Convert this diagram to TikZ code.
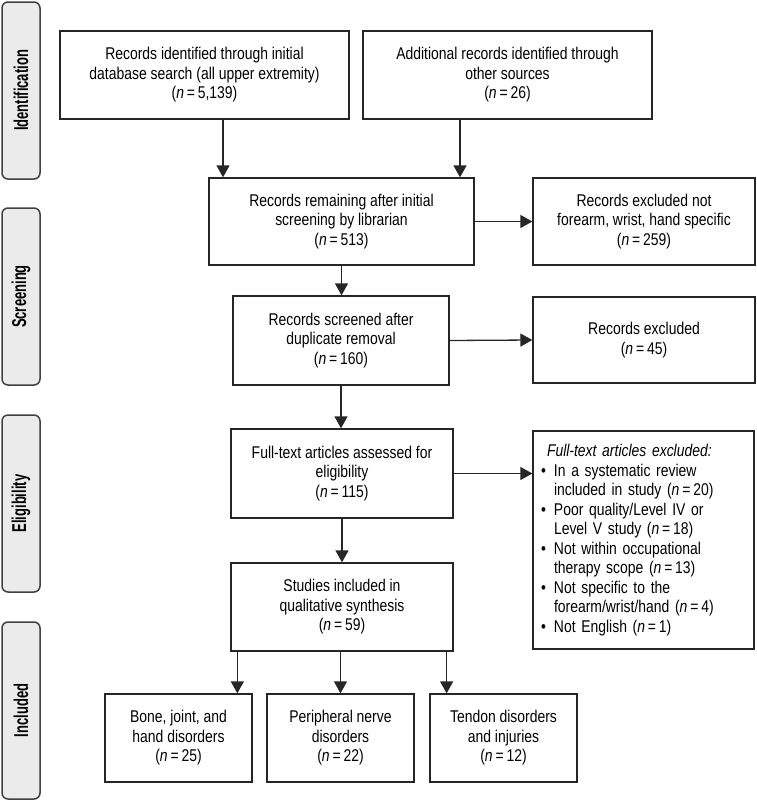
\documentclass[tikz,border=0pt]{standalone}
\usepackage{fontspec}
\setmainfont{Liberation Sans}[FakeStretch=0.82]
\newfontfamily\phasefont{Liberation Sans}[FakeStretch=0.65]
\usetikzlibrary{arrows.meta}

\tikzset{
  box/.style={draw=black!85, line width=1.3pt, fill=white, align=center,
    inner sep=2pt, font=\fontsize{17}{19.5}\selectfont},
  phase/.style={draw=black!75, line width=1.5pt, fill=black!8, rounded corners=6pt,
    rotate=90, minimum width=177pt, minimum height=38pt,
    font=\phasefont\bfseries\fontsize{20}{22}\selectfont},
  arr/.style={-{Triangle[width=13pt,length=12pt]}, line width=1.3pt, draw=black!85},
}
\newcommand{\nn}[1]{(\textit{n}\,=\,#1)}
\newcommand{\bul}{\makebox[13pt][l]{\textbullet}}
\newcommand{\ind}{\hspace*{13pt}}

\begin{document}
\begin{tikzpicture}[x=1pt, y=-1pt]
    \useasboundingbox (0,0) rectangle (757,801);

    % phases
    \node[phase] (ident) at (21,90.5) {Identification};
    \node[phase] (screen) at (21,296.5) {Screening};
    \node[phase] (elig) at (21,503.5) {Eligibility};
    \node[phase] (incl) at (21,710.5) {Included};

    % identification
    \node[box, minimum width=289pt, minimum height=88pt] (dbsearch) at (204.5,75)
      {Records identified through initial\\database search (all upper extremity)\\\nn{5,139}};
    \node[box, minimum width=289pt, minimum height=88pt] (other) at (507.5,75)
      {Additional records identified through\\other sources\\\nn{26}};

    % screening
    \node[box, minimum width=265pt, minimum height=87pt] (remain) at (341.5,221.5)
      {Records remaining after initial\\screening by librarian\\\nn{513}};
    \node[box, minimum width=222pt, minimum height=87pt] (notfwh) at (644,221.5)
      {Records excluded not\\forearm, wrist, hand specific\\\nn{259}};
    \node[box, minimum width=216pt, minimum height=89pt] (dedup) at (341,340.5)
      {Records screened after\\duplicate removal\\\nn{160}};
    \node[box, minimum width=222pt, minimum height=86pt] (excl) at (644,340)
      {Records excluded\\\nn{45}};

    % eligibility
    \node[box, minimum width=222pt, minimum height=89pt] (fulltext) at (342,473.5)
      {Full-text articles assessed for\\eligibility\\\nn{115}};
    \node[box, minimum width=221pt, minimum height=218pt, align=left,
      text width=205pt, inner xsep=7pt] (ftexcl) at (643.5,540)
      {\hspace*{6pt}\textit{Full-text articles excluded:}\\
       \bul In a systematic review\\
       \ind included in study \nn{20}\\
       \bul Poor quality/Level IV or\\
       \ind Level V study \nn{18}\\
       \bul Not within occupational\\
       \ind therapy scope \nn{13}\\
       \bul Not specific to the\\
       \ind forearm/wrist/hand \nn{4}\\
       \bul Not English \nn{1}};

    % included
    \node[box, minimum width=222pt, minimum height=88pt] (synth) at (342,607)
      {Studies included in\\qualitative synthesis\\\nn{59}};
    \node[box, minimum width=147pt, minimum height=88pt] (bone) at (178.5,738)
      {Bone, joint, and\\hand disorders\\\nn{25}};
    \node[box, minimum width=147pt, minimum height=88pt] (nerve) at (340.5,738)
      {Peripheral nerve\\disorders\\\nn{22}};
    \node[box, minimum width=147pt, minimum height=88pt] (tendon) at (503.5,738)
      {Tendon disorders\\and injuries\\\nn{12}};

    % arrows
    \draw[arr] ([xshift=18.5pt]dbsearch.south) -- ([xshift=18.5pt]dbsearch.south |- remain.north);
    \draw[arr] ([xshift=-47.5pt]other.south) -- ([xshift=-47.5pt]other.south |- remain.north);
    \draw[arr] (remain.east) -- (notfwh.west);
    \draw[arr] (remain.south) -- (remain.south |- dedup.north);
    \draw[arr] (dedup.east) -- (excl.west);
    \draw[arr] (dedup.south) -- (dedup.south |- fulltext.north);
    \draw[arr] (fulltext.east) -- (fulltext.east -| ftexcl.west);
    \draw[arr] (fulltext.south) -- (synth.north);
    \draw[arr] ([xshift=7pt]synth.south west) -- ([xshift=7pt]synth.south west |- bone.north);
    \draw[arr] (synth.south -| nerve.north) -- (nerve.north);
    \draw[arr] ([xshift=-7pt]synth.south east) -- ([xshift=-7pt]synth.south east |- tendon.north);
  \end{tikzpicture}
\end{document}
